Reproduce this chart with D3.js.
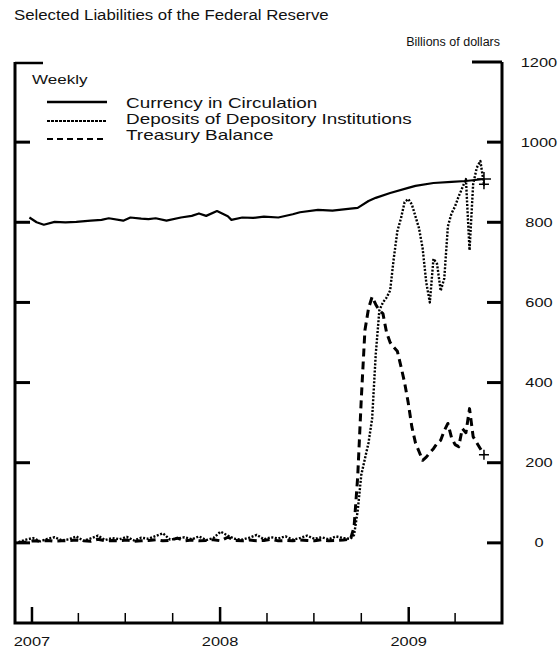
<!DOCTYPE html>
<html>
<head>
<meta charset="utf-8">
<script src="https://cdn.jsdelivr.net/npm/d3@7/dist/d3.min.js"></script>
<style>
    body { margin: 0; background: #fff; }
    text { font-family: "Liberation Sans", Arial, sans-serif; fill: #111; }
</style>
</head>
<body>
<div id="chart"></div>
<script>
// Weekly liabilities, billions of dollars
var currencyDates = ["2006-12-27","2007-01-10","2007-01-24","2007-02-14","2007-03-07","2007-03-28","2007-04-25","2007-05-16","2007-05-30","2007-06-27","2007-07-11","2007-08-01","2007-08-15","2007-08-29","2007-09-19","2007-10-17","2007-11-07","2007-11-21","2007-12-05","2007-12-26","2008-01-16","2008-01-23","2008-02-13","2008-03-05","2008-03-26","2008-04-23","2008-05-21","2008-06-04","2008-07-09","2008-08-06","2008-09-10","2008-09-24","2008-10-15","2008-10-29","2008-11-26","2008-12-31","2009-01-14","2009-02-18","2009-03-25","2009-04-22","2009-05-27"];
var currencyValues = [812, 800, 794, 801, 800, 801, 804, 806, 810, 804, 812, 809, 808, 810, 804, 812, 816, 822, 816, 828, 815, 806, 812, 811, 814, 812, 820, 825, 831, 829, 834, 836, 853, 861, 873, 886, 891, 898, 901, 903, 908];

// quiet period, every other week
var flatDates = ["2006-12-06","2006-12-20","2007-01-03","2007-01-17","2007-01-31","2007-02-14","2007-02-28","2007-03-14","2007-03-28","2007-04-11","2007-04-25","2007-05-09","2007-05-23","2007-06-06","2007-06-20","2007-07-04","2007-07-18","2007-08-01","2007-08-15","2007-08-29","2007-09-12","2007-09-26","2007-10-10","2007-10-24","2007-11-07","2007-11-21","2007-12-05","2007-12-19","2008-01-02","2008-01-16","2008-01-30","2008-02-13","2008-02-27","2008-03-12","2008-03-26","2008-04-09","2008-04-23","2008-05-07","2008-05-21","2008-06-04","2008-06-18","2008-07-02","2008-07-16","2008-07-30","2008-08-13","2008-08-27","2008-09-10"];
var depositFlat = [2, 8, 12, 4, 10, 14, 6, 9, 16, 5, 11, 18, 7, 12, 9, 15, 6, 13, 10, 17, 24, 8, 11, 14, 9, 16, 7, 12, 28, 18, 10, 8, 13, 20, 9, 14, 11, 16, 8, 12, 18, 10, 14, 9, 16, 12, 10];
var treasuryFlat = [1, 2, 5, 4, 6, 4, 5, 6, 7, 5, 4, 9, 5, 6, 5, 7, 4, 5, 6, 8, 5, 6, 12, 5, 7, 5, 6, 8, 5, 14, 6, 5, 7, 5, 6, 9, 5, 6, 5, 7, 6, 5, 8, 5, 6, 7, 9];

// crisis period, weekly
var crisisDates = ["2008-09-17","2008-09-24","2008-10-01","2008-10-08","2008-10-15","2008-10-22","2008-10-29","2008-11-05","2008-11-12","2008-11-19","2008-11-26","2008-12-03","2008-12-10","2008-12-17","2008-12-24","2008-12-31","2009-01-07","2009-01-14","2009-01-21","2009-01-28","2009-02-04","2009-02-11","2009-02-18","2009-02-25","2009-03-04","2009-03-11","2009-03-18","2009-03-25","2009-04-01","2009-04-08","2009-04-15","2009-04-22","2009-04-29","2009-05-06","2009-05-13","2009-05-20","2009-05-27"];
var depositCrisis = [20, 80, 170, 210, 250, 310, 470, 580, 600, 612, 630, 710, 778, 810, 850, 858, 845, 815, 785, 735, 650, 600, 709, 696, 629, 660, 790, 822, 840, 865, 886, 908, 730, 895, 936, 953, 895];
var treasuryCrisis = [40, 165, 360, 530, 585, 614, 595, 580, 572, 525, 500, 488, 478, 440, 400, 350, 290, 250, 228, 206, 214, 225, 235, 248, 256, 280, 298, 263, 245, 240, 285, 275, 335, 265, 250, 235, 220];

var seriesNames = ["Currency in Circulation", "Deposits of Depository Institutions", "Treasury Balance"];
var yTicks = [0, 200, 400, 600, 800, 1000, 1200];
var yearTicks = ["2007-01-01", "2008-01-01", "2009-01-01"];

var width = 559, height = 654,
    plotLeft = 15, plotRight = 502, plotTop = 62, plotBottom = 623;
var stretch = 1.26;

var parse = d3.timeParse("%Y-%m-%d");

var x = d3.scaleTime()
    .domain([parse("2006-12-01"), parse("2009-07-01")])
    .range([plotLeft + 1, plotRight]);
var y = d3.scaleLinear().domain([-200, 1200]).range([plotBottom, plotTop]);

var svg = d3.select("#chart").append("svg")
    .attr("width", width).attr("height", height);
svg.append("rect").attr("width", width).attr("height", height).attr("fill", "#fff");

// the picture is a bit wide, so stretch text horizontally
function wideText(sel, k) {
    sel.each(function() {
        var len = this.getComputedTextLength();
        d3.select(this).attr("textLength", len * (k || stretch)).attr("lengthAdjust", "spacingAndGlyphs");
    });
    return sel;
}

svg.append("text").attr("x", 14).attr("y", 20)
    .style("font-size", "14px").text("Selected Liabilities of the Federal Reserve")
    .call(wideText, 1.2);
svg.append("text").attr("x", 500).attr("y", 46).attr("text-anchor", "end")
    .style("font-size", "12.5px").text("Billions of dollars");

// frame
var frame = svg.append("g").attr("stroke", "#000").attr("fill", "none");
frame.append("path").attr("stroke-width", 3)
    .attr("d", "M" + plotLeft + "," + y(1200) + "V" + plotBottom + "H" + plotRight + "V" + y(1200));
frame.append("line").attr("stroke-width", 2.5)
    .attr("x1", plotLeft).attr("x2", plotLeft + 28).attr("y1", y(1200) + 1).attr("y2", y(1200) + 1);
frame.append("line").attr("stroke-width", 3)
    .attr("x1", plotRight - 30).attr("x2", plotRight).attr("y1", y(1200)).attr("y2", y(1200));

// y ticks on both sides
var yt = yTicks.filter(d => d < 1200);
frame.selectAll(".ltick").data(yt).enter().append("line")
    .attr("stroke-width", 3)
    .attr("x1", plotLeft).attr("x2", plotLeft + 15)
    .attr("y1", d => y(d)).attr("y2", d => y(d));
frame.selectAll(".rtick").data(yt).enter().append("line")
    .attr("stroke-width", 3)
    .attr("x1", plotRight - 15).attr("x2", plotRight)
    .attr("y1", d => y(d)).attr("y2", d => y(d));

svg.selectAll(".ylab").data(yTicks).enter().append("text")
    .attr("x", 539).attr("y", d => y(d)).attr("dy", "0.35em")
    .attr("text-anchor", "middle").style("font-size", "13px")
    .text(d => d).call(wideText);

// x ticks: quarters, taller at the years
var quarters = d3.timeMonth.every(3).range(parse("2007-01-01"), parse("2009-07-01"));
frame.selectAll(".xtick").data(quarters).enter().append("line")
    .attr("stroke-width", d => d.getMonth() === 0 ? 2.5 : 1.5)
    .attr("x1", d => x(d)).attr("x2", d => x(d))
    .attr("y1", plotBottom).attr("y2", d => plotBottom - (d.getMonth() === 0 ? 16 : 10));

svg.selectAll(".xlab").data(yearTicks).enter().append("text")
    .attr("x", d => x(parse(d))).attr("y", 646)
    .attr("text-anchor", "middle").style("font-size", "13px")
    .text(d => d.slice(0, 4)).call(wideText);

// series
var currency = currencyDates.map((d, i) => ({date: parse(d), value: currencyValues[i]}));
var deposits = flatDates.map((d, i) => ({date: parse(d), value: depositFlat[i]}))
    .concat(crisisDates.map((d, i) => ({date: parse(d), value: depositCrisis[i]})));
var treasury = flatDates.map((d, i) => ({date: parse(d), value: treasuryFlat[i]}))
    .concat(crisisDates.map((d, i) => ({date: parse(d), value: treasuryCrisis[i]})));

var line = d3.line().x(d => x(d.date)).y(d => y(d.value));
var styles = [
    {width: 2.2, dash: null},
    {width: 2.4, dash: "2,1.6"},
    {width: 3, dash: "8,5"}
];

[currency, deposits, treasury].forEach((data, i) => {
    svg.append("path").datum(data)
        .attr("fill", "none").attr("stroke", "#000")
        .attr("stroke-width", styles[i].width)
        .attr("stroke-dasharray", styles[i].dash)
        .attr("stroke-linejoin", "round")
        .attr("d", line);
    // end marker
    var last = data[data.length - 1], s = i === 0 ? 7 : 5;
    svg.append("path").attr("stroke", "#000").attr("stroke-width", 1.5)
        .attr("transform", "translate(" + x(last.date) + "," + y(last.value) + ")")
        .attr("d", "M" + (-s) + ",0H" + s + "M0," + (-s) + "V" + s);
});

// legend
svg.append("text").attr("x", 32).attr("y", 84).style("font-size", "13.5px")
    .text("Weekly").call(wideText);
var legendLineY = [102, 121, 139], legendTextY = [108, 124, 140];
seriesNames.forEach((name, i) => {
    svg.append("line").attr("x1", 47).attr("x2", 107)
        .attr("y1", legendLineY[i]).attr("y2", legendLineY[i])
        .attr("stroke", "#000").attr("stroke-width", i === 0 ? 2.5 : 2.2)
        .attr("stroke-dasharray", i === 0 ? null : (i === 1 ? "3,1" : "6,4"));
    svg.append("text").attr("x", 126).attr("y", legendTextY[i])
        .style("font-size", "15px").text(name).call(wideText);
});
</script>
</body>
</html>
